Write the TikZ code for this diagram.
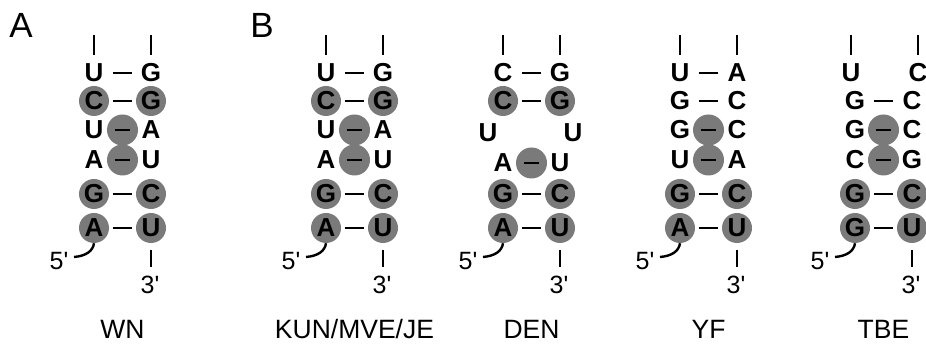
\documentclass[tikz,border=0pt]{standalone}
\usepackage{fontspec}
\setmainfont{Liberation Sans}
\definecolor{nucgray}{RGB}{122,122,122}
\tikzset{
  base/.style={circle, inner sep=0pt, minimum size=30pt, font=\fontsize{26}{26}\selectfont\bfseries},
  plainnt/.style={base},
  filled/.style={base, fill=nucgray},
  hub/.style={circle, fill=nucgray, minimum size=31pt, inner sep=0pt},
  pairline/.style={line width=2.4pt, shorten <=3.5pt, shorten >=3.5pt},
  innerline/.style={line width=2.4pt, shorten <=5.5pt, shorten >=5.5pt},
  strand/.style={line width=2.4pt},
  caption/.style={font=\fontsize{26.5}{26.5}\selectfont, anchor=base},
  endlabel/.style={font=\fontsize{25}{25}\selectfont, anchor=base},
  panel/.style={font=\fontsize{35}{35}\selectfont, anchor=base},
}
% closing base pairs, 5'/3' ends and the caption of one stem
\newcommand\stembase[6]{%
  \node[filled] (#1L5) at (0,194) {#2};
  \node[filled] (#1R5) at (57,194) {#3};
  \node[filled] (#1L6) at (0,228) {#4};
  \node[filled] (#1R6) at (57,228) {#5};
  \draw[pairline] (#1L5) -- (#1R5);
  \draw[pairline] (#1L6) -- (#1R6);
  \coordinate (#1F) at (-20,257);
  \draw[strand] (#1L6.south) .. controls (-1,251) and (-8,256) .. (#1F);
  \node[endlabel] (#1five) at (-35,270) {5\textquotesingle};
  \coordinate (#1E) at (57,267);
  \draw[strand, shorten <=7pt] (#1R6) -- (#1E);
  \node[endlabel] (#1three) at (56,294) {3\textquotesingle};
  \node[caption] (#1name) at (28.5,339) {#6};
}
% stem strands leaving upwards
\newcommand\topticks[3]{%
  \coordinate (#1TL) at (#2,35);
  \coordinate (#1TR) at (#3,35);
  \draw[strand, shorten >=3pt] (#1TL) -- (#1L1);
  \draw[strand, shorten >=3pt] (#1TR) -- (#1R1);
}
\begin{document}
\begin{tikzpicture}[x=1pt,y=-1pt]
\useasboundingbox[fill=white] (0,0) rectangle (926,344);

\node[panel] (labA) at (21,38) {A};
\node[panel] (labB) at (262,38) {B};

% ---- WN ----
\begin{scope}[xshift=94pt]
  \node[plainnt] (wL1) at (0,73) {U};
  \node[plainnt] (wR1) at (57,73) {G};
  \node[filled] (wL2) at (0,101) {C};
  \node[filled] (wR2) at (57,101) {G};
  \node[hub] (wM3) at (28.5,130) {};
  \node[hub] (wM4) at (28.5,160) {};
  \node[plainnt] (wL3) at (0,130) {U};
  \node[plainnt] (wR3) at (57,130) {A};
  \node[plainnt] (wL4) at (0,160) {A};
  \node[plainnt] (wR4) at (57,160) {U};
  \draw[pairline] (wL1) -- (wR1);
  \draw[pairline] (wL2) -- (wR2);
  \draw[innerline] (wL3) -- (wR3);
  \draw[innerline] (wL4) -- (wR4);
  \topticks{w}{0}{57}
  \stembase{w}{G}{C}{A}{U}{WN}
\end{scope}

% ---- KUN/MVE/JE ----
\begin{scope}[xshift=326pt]
  \node[plainnt] (kL1) at (0,73) {U};
  \node[plainnt] (kR1) at (57,73) {G};
  \node[filled] (kL2) at (0,101) {C};
  \node[filled] (kR2) at (57,101) {G};
  \node[hub] (kM3) at (28.5,130) {};
  \node[hub] (kM4) at (28.5,160) {};
  \node[plainnt] (kL3) at (0,130) {U};
  \node[plainnt] (kR3) at (57,130) {A};
  \node[plainnt] (kL4) at (0,160) {A};
  \node[plainnt] (kR4) at (57,160) {U};
  \draw[pairline] (kL1) -- (kR1);
  \draw[pairline] (kL2) -- (kR2);
  \draw[innerline] (kL3) -- (kR3);
  \draw[innerline] (kL4) -- (kR4);
  \topticks{k}{0}{57}
  \stembase{k}{G}{C}{A}{U}{KUN/MVE/JE}
\end{scope}

% ---- DEN ----
\begin{scope}[xshift=503pt]
  \node[plainnt] (dL1) at (0,73) {C};
  \node[plainnt] (dR1) at (57,73) {G};
  \node[filled] (dL2) at (0,101) {C};
  \node[filled] (dR2) at (57,101) {G};
  \node[plainnt] (dL3) at (-15,133) {U};
  \node[plainnt] (dR3) at (70,133) {U};
  \node[hub] (dM4) at (28.5,163) {};
  \node[plainnt] (dL4) at (0,163) {A};
  \node[plainnt] (dR4) at (57,163) {U};
  \draw[pairline] (dL1) -- (dR1);
  \draw[pairline] (dL2) -- (dR2);
  \draw[innerline] (dL4) -- (dR4);
  \topticks{d}{0}{57}
  \stembase{d}{G}{C}{A}{U}{DEN}
\end{scope}

% ---- YF ----
\begin{scope}[xshift=680pt]
  \node[plainnt] (yL1) at (0,73) {U};
  \node[plainnt] (yR1) at (57,73) {A};
  \node[plainnt] (yL2) at (0,101) {G};
  \node[plainnt] (yR2) at (57,101) {C};
  \node[hub] (yM3) at (28.5,130) {};
  \node[hub] (yM4) at (28.5,160) {};
  \node[plainnt] (yL3) at (0,130) {G};
  \node[plainnt] (yR3) at (57,130) {C};
  \node[plainnt] (yL4) at (0,160) {U};
  \node[plainnt] (yR4) at (57,160) {A};
  \draw[pairline] (yL1) -- (yR1);
  \draw[pairline] (yL2) -- (yR2);
  \draw[innerline] (yL3) -- (yR3);
  \draw[innerline] (yL4) -- (yR4);
  \topticks{y}{0}{57}
  \stembase{y}{G}{C}{A}{U}{YF}
\end{scope}

% ---- TBE ----
\begin{scope}[xshift=855pt]
  \node[plainnt] (tL1) at (-4,73) {U};
  \node[plainnt] (tR1) at (63,73) {C};
  \node[plainnt] (tL2) at (0,101) {G};
  \node[plainnt] (tR2) at (57,101) {C};
  \node[hub] (tM3) at (28.5,130) {};
  \node[hub] (tM4) at (28.5,160) {};
  \node[plainnt] (tL3) at (0,130) {G};
  \node[plainnt] (tR3) at (57,130) {C};
  \node[plainnt] (tL4) at (0,160) {C};
  \node[plainnt] (tR4) at (57,160) {G};
  \draw[pairline] (tL2) -- (tR2);
  \draw[innerline] (tL3) -- (tR3);
  \draw[innerline] (tL4) -- (tR4);
  \topticks{t}{-4}{63}
  \stembase{t}{G}{C}{G}{U}{TBE}
\end{scope}
\end{tikzpicture}
\end{document}
